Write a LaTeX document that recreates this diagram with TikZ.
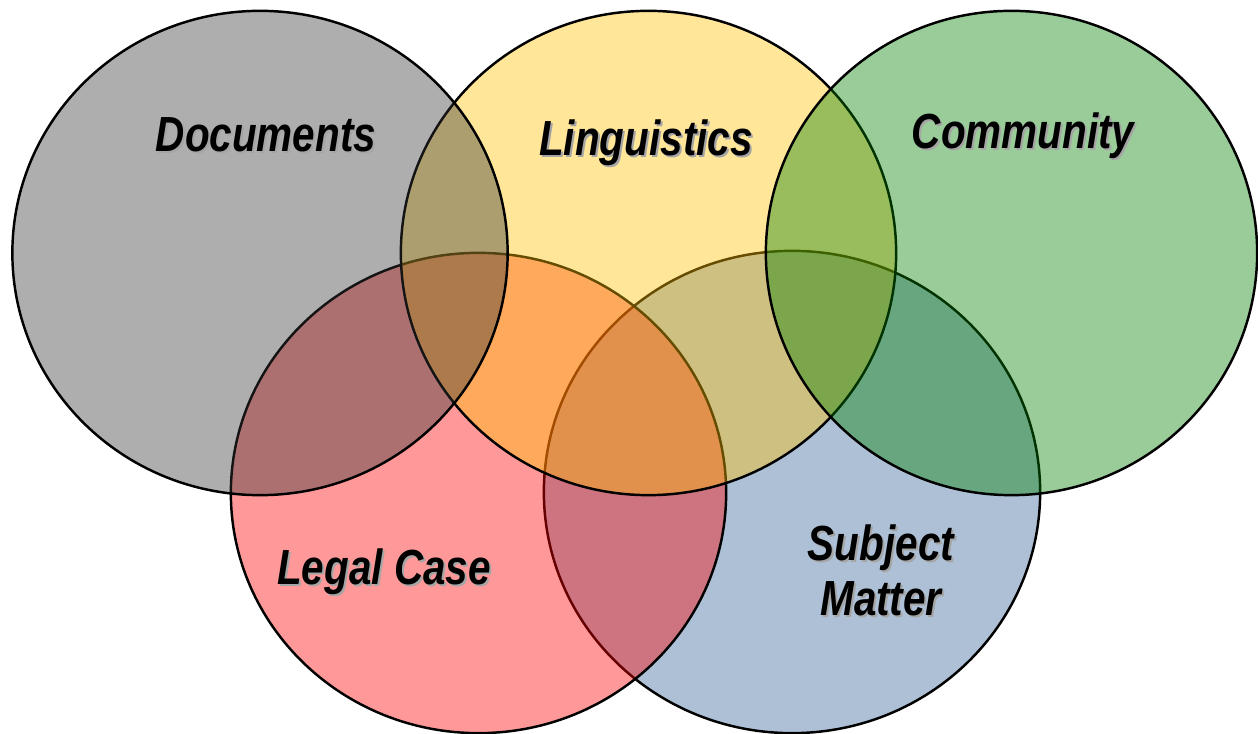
\documentclass[tikz,border=0pt]{standalone}
\usepackage{fontspec}
\setmainfont{Liberation Sans}
\definecolor{cgray}{RGB}{52,52,52}
\definecolor{cyellow}{RGB}{255,192,0}
\definecolor{cred}{RGB}{255,0,0}
\definecolor{cgreen}{RGB}{0,128,0}
\definecolor{cblue}{RGB}{50,98,152}
\definecolor{cshadow}{RGB}{165,165,165}
\newcommand{\lbltext}[1]{\scalebox{1}[1.22]{\begin{tabular}{@{}c@{}}#1\end{tabular}}}
\begin{document}
\begin{tikzpicture}[x=0.01cm,y=-0.01cm,
  circ/.style={draw=black,line width=0.7pt,fill opacity=0.4},
  lbl/.style={font=\fontsize{11.5}{12.9}\selectfont\bfseries\itshape,inner sep=0pt,text=black},
  lblshadow/.style={lbl,text=cshadow}]
\useasboundingbox (0,0) rectangle (1258,734);
\clip (0,0) rectangle (1258,734);
% circles, bottom to top
\path[circ,fill=cblue]   (792,492) ellipse [x radius=2.48cm,y radius=2.41cm];
\path[circ,fill=cred]    (478.5,493) ellipse [x radius=2.475cm,y radius=2.40cm];
\path[circ,fill=cyellow] (648.5,253) ellipse [x radius=2.475cm,y radius=2.42cm];
\path[circ,fill=cgray]   (260,253) ellipse [x radius=2.475cm,y radius=2.42cm];
\path[circ,fill=cgreen]  (1011.5,253) ellipse [x radius=2.455cm,y radius=2.42cm];
% labels with shadows
\foreach \nm/\px/\py/\tx in {doc/266/140/Documents, lin/646/144/Linguistics, com/1023/137/Community, leg/384/573/Legal Case, sub/881/577/Subject\\Matter}{
  \node[lblshadow] (\nm s) at (\px+2,\py+2) {\lbltext{\tx}};
  \node[lbl] (\nm) at (\px,\py) {\lbltext{\tx}};
}
\end{tikzpicture}
\end{document}
